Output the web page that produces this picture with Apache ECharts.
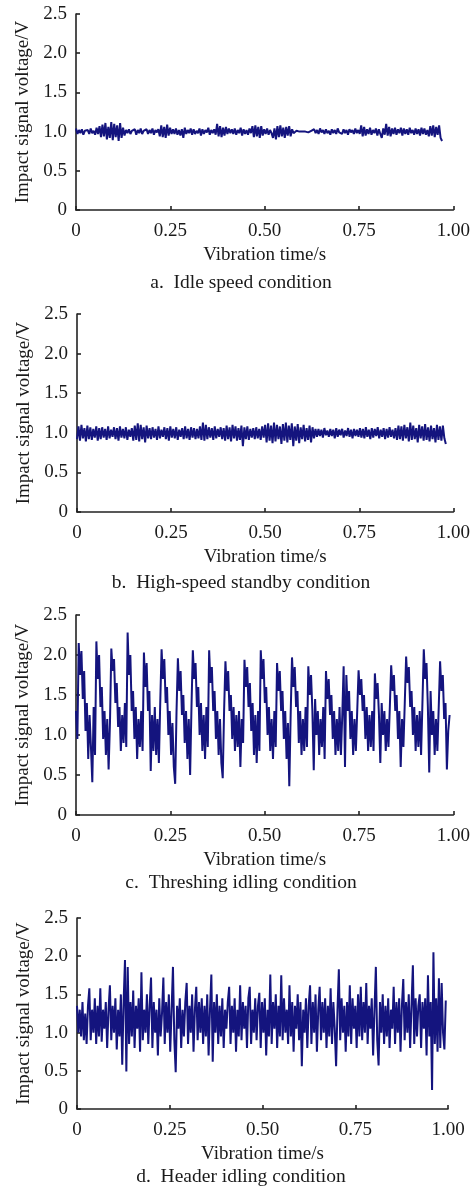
<!DOCTYPE html>
<html>
<head>
<meta charset="utf-8">
<script src="https://cdn.jsdelivr.net/npm/echarts@6/dist/echarts.min.js"></script>
<style>
html,body{margin:0;padding:0;background:#fff;}
#main{width:473px;height:1187px;}
</style>
</head>
<body>
<div id="main"></div>
<script>
// Panel captions
const captions = ['a.  Idle speed condition', 'b.  High-speed standby condition', 'c.  Threshing idling condition', 'd.  Header idling condition'];
const xTickLabels = ['0', '0.25', '0.50', '0.75', '1.00'];
const yTickLabels = ['0', '0.5', '1.0', '1.5', '2.0', '2.5'];
const xName = 'Vibration time/s';
const yName = 'Impact signal voltage/V';
// time of last sample in each record (s)
const endTimes = [0.97, 0.98, 0.99, 0.994];

const idleSpeed = [
1.04,0.97,1.02,0.98,1.03,0.96,1.01,0.99,1.02,0.97,1.04,0.98,1.01,0.96,1.05,0.97,
1.07,0.93,1.09,0.94,1.11,0.90,1.06,0.92,1.12,0.89,1.10,0.93,1.08,0.88,1.11,0.92,1.05,0.95,
1.02,0.98,1.03,0.97,1.01,0.99,1.03,0.96,1.02,0.98,1.04,0.97,1.01,0.99,1.03,0.97,1.02,0.98,1.04,0.96,1.02,0.99,1.03,
0.94,1.08,0.93,1.06,0.92,1.09,0.95,1.05,0.97,
1.03,0.97,1.04,0.96,1.02,0.95,1.03,0.92,1.05,0.97,1.02,0.98,1.04,0.96,1.03,0.97,1.01,0.98,1.04,0.95,1.03,0.97,1.02,0.99,1.05,0.96,1.02,0.98,1.03,
0.96,1.10,0.94,1.07,0.93,1.05,0.95,1.06,0.97,1.04,0.98,
1.03,0.97,1.04,0.96,1.02,0.98,1.05,0.95,1.03,0.97,1.02,0.96,1.04,0.98,1.07,0.93,1.08,0.94,1.06,0.92,1.07,0.95,1.03,0.97,1.04,0.96,1.02,0.98,0.92,1.04,
0.90,1.07,0.93,1.08,0.94,1.05,0.92,1.06,0.95,1.07,0.94,1.03,0.98,
1.00,1.01,0.99,1.00,1.01,1.00,0.99,1.00,1.01,0.99,1.00,1.01,0.99,
1.03,0.98,1.02,0.97,1.04,0.99,1.02,0.97,1.03,0.98,1.01,0.96,1.03,0.98,1.02,0.97,1.04,0.99,1.01,0.97,1.03,0.98,1.02,0.96,1.03,0.99,1.02,0.97,1.04,0.98,1.02,0.97,
1.08,0.94,1.06,0.95,
1.03,0.97,1.05,0.96,1.02,0.98,1.04,0.95,1.03,0.97,0.92,1.04,
0.96,1.10,0.95,1.06,0.94,1.04,0.97,1.05,0.96,1.03,0.98,1.05,0.95,1.04,0.97,1.03,0.96,1.05,0.98,1.02,0.96,1.04,0.97,1.03,0.95,1.05,0.97,1.04,0.96,1.02,0.94,1.07,0.95,1.08,0.93,1.06,0.96,1.08,0.92,0.88
];

const highSpeedStandby = [
0.92,1.08,0.90,1.10,0.93,1.06,0.89,1.09,0.92,1.07,0.91,1.05,0.94,1.08,0.90,
1.06,0.92,1.07,0.94,1.05,0.91,1.08,0.93,1.04,0.95,1.07,0.92,1.06,0.90,1.08,0.94,1.05,0.93,1.07,0.91,1.04,0.95,1.06,
0.90,1.09,0.91,1.12,0.89,1.10,0.92,1.07,0.88,1.09,0.93,
1.06,0.92,1.07,0.94,1.05,0.91,1.08,0.93,1.04,0.95,1.07,0.92,1.06,0.90,1.08,0.94,1.05,0.93,1.07,0.91,1.04,0.95,1.06,0.92,1.08,0.93,1.05,0.91,1.07,0.94,1.06,0.92,1.05,
0.93,1.08,0.91,1.13,0.90,1.10,0.92,1.07,0.94,1.06,0.91,1.08,0.93,1.05,0.95,1.07,0.92,1.06,
0.90,1.09,0.92,1.07,0.89,1.10,0.93,1.08,0.90,1.06,0.91,1.09,0.83,1.07,0.92,1.08,0.91,1.05,
0.94,1.06,0.92,1.07,0.93,1.05,0.91,1.08,0.94,
1.10,0.88,1.12,0.90,1.09,0.87,1.13,0.89,1.10,0.92,1.08,0.86,1.11,0.90,1.13,0.88,1.09,0.91,1.12,0.83,1.08,0.90,1.11,0.87,1.07,0.92,1.10,0.89,1.06,0.91,1.09,0.88,1.07,0.93,1.05,
0.95,1.05,0.96,1.04,0.94,1.06,0.97,1.03,0.95,1.05,0.96,1.04,0.93,1.06,0.95,1.04,0.97,1.05,0.94,1.03,0.96,1.06,0.95,1.04,0.93,1.05,0.96,1.04,0.95,1.06,0.94,
1.05,0.93,1.07,0.95,1.04,0.92,1.06,0.94,1.05,0.96,1.07,0.93,1.04,0.95,1.06,0.92,1.05,0.94,1.07,0.95,1.04,0.93,1.06,
0.91,1.09,0.92,1.08,0.90,1.10,0.93,1.07,0.89,1.13,0.91,1.09,0.92,1.06,0.88,1.10,0.93,1.08,0.90,1.11,0.91,1.07,0.89,1.09,0.92,1.06,0.88,1.10,0.91,1.08,0.90,1.09,0.93,0.86
];

const threshingIdling = [
1.30,0.95,
2.15,1.75,2.05,1.45,1.80,1.05,1.40,0.70,1.25,0.85,0.41,1.35,0.75,
2.17,1.70,2.00,1.35,1.60,0.95,1.30,0.75,1.20,0.57,1.15,
2.08,1.80,1.95,1.40,1.65,1.10,1.35,0.80,1.25,0.90,1.40,0.85,
2.28,1.75,2.00,1.30,1.55,0.95,1.35,0.70,1.20,0.85,1.30,0.80,
2.03,1.60,1.90,1.30,1.55,0.55,1.25,0.80,1.35,0.75,1.20,0.65,1.40,
2.07,1.70,1.95,1.40,1.60,1.00,1.30,0.75,1.15,0.60,0.39,1.30,
1.96,1.55,1.80,1.25,1.50,0.90,1.30,0.70,1.20,0.50,1.35,
2.06,1.70,1.90,1.35,1.60,1.00,1.40,0.80,1.25,0.70,1.35,0.85,
2.06,1.65,1.85,1.30,1.55,0.95,1.30,0.75,1.20,0.65,0.46,1.30,
1.92,1.55,1.80,1.30,1.50,0.95,1.35,0.80,1.25,0.85,1.30,0.60,1.20,0.90,
1.94,1.60,1.85,1.35,1.65,1.05,1.40,0.75,1.25,0.65,1.30,0.80,
2.06,1.70,1.95,1.40,1.60,1.00,1.35,0.80,1.20,0.70,1.30,0.85,
1.90,1.55,1.80,1.30,1.55,0.95,1.30,0.70,1.15,0.36,1.25,
1.97,1.60,1.85,1.35,1.55,0.90,1.30,0.75,1.20,0.80,1.35,0.85,
1.86,1.50,1.75,1.30,0.56,1.45,1.00,1.30,0.75,1.20,0.85,1.35,0.70,
1.80,1.45,1.70,1.25,1.50,0.95,1.30,0.75,1.20,0.80,1.35,0.75,1.25,
1.86,0.60,1.75,1.30,1.55,0.95,1.30,0.75,1.20,0.80,1.30,
1.81,1.50,1.70,1.30,1.50,0.95,1.35,0.80,1.25,0.85,1.30,0.80,
1.77,1.45,1.65,1.25,0.65,1.40,1.00,1.30,0.80,1.20,0.85,1.35,
1.87,1.55,1.75,1.30,1.50,0.95,1.30,0.60,1.20,0.85,1.40,
1.98,1.65,1.85,1.35,1.55,1.00,1.35,0.80,1.25,0.85,1.30,0.75,1.40,
2.07,1.70,1.90,1.35,0.53,1.55,1.00,1.30,0.75,1.20,0.80,1.35,
1.92,1.55,1.75,1.20,1.40,0.57,1.05,1.25
];

const headerIdling = [
1.35,1.00,1.30,0.95,1.40,0.90,1.25,0.85,1.35,1.58,
0.90,1.30,1.00,1.45,0.85,1.35,0.95,1.58,0.88,1.30,
1.05,1.40,0.80,1.30,1.62,0.90,1.35,1.00,1.45,0.78,
1.30,0.95,1.50,0.58,1.40,1.95,0.49,1.86,0.85,1.40,
0.95,1.55,0.80,1.35,1.05,1.45,0.75,1.79,0.90,1.30,
1.00,1.50,0.85,1.35,1.72,0.80,1.40,1.00,1.30,0.70,
1.45,0.95,1.25,1.72,0.85,1.40,1.00,1.50,0.75,1.30,
1.86,0.90,0.48,1.35,1.05,1.45,0.80,1.30,0.95,1.40,
1.65,0.85,1.35,1.00,1.50,0.75,1.30,1.60,0.90,1.40,
1.00,1.45,0.85,1.35,0.95,1.50,0.70,1.30,1.76,0.62,
1.40,1.00,1.50,0.85,1.35,0.95,1.45,0.80,1.30,1.05,
1.40,1.60,0.85,1.35,1.00,1.45,0.75,1.30,0.95,1.62,
0.90,1.40,1.05,1.35,0.80,1.45,1.60,0.85,1.30,1.00,
1.45,0.90,1.35,1.52,0.80,1.40,1.00,1.45,0.70,1.30,
0.95,1.76,0.85,1.40,1.05,1.50,0.80,1.35,0.95,1.75,
0.90,1.45,1.00,1.30,0.85,1.62,0.95,1.40,0.75,1.35,
1.05,1.50,0.90,1.40,0.56,1.30,1.00,1.45,0.80,1.35,
1.62,0.85,1.40,1.00,1.50,0.75,1.30,1.60,0.90,1.40,
1.00,1.45,0.80,1.35,0.95,1.58,0.85,1.40,1.05,0.56,
1.30,1.83,0.90,1.45,1.00,1.35,0.75,1.40,0.95,1.62,
0.85,1.45,1.05,1.35,0.80,1.50,0.95,1.60,0.90,1.40,
1.00,1.65,0.85,1.35,1.05,1.45,0.70,1.30,1.86,0.90,
0.57,1.40,1.00,1.50,0.85,1.35,0.95,1.45,0.80,1.30,
1.05,1.60,0.85,1.40,1.00,1.45,0.75,1.35,1.70,0.90,
1.40,1.00,1.50,0.80,1.35,1.88,0.85,1.45,0.95,1.35,
1.50,0.80,1.40,1.05,1.45,0.70,1.75,0.95,1.40,0.25,
2.05,0.85,1.45,0.75,1.71,0.80,1.65,1.00,0.78,1.42
];

const records = [idleSpeed, highSpeedStandby, threshingIdling, headerIdling];

const grids = [
  {left: 76, right: 17, top: 14, height: 196},
  {left: 77, right: 16, top: 314, height: 198},
  {left: 76, right: 16, top: 615, height: 200},
  {left: 77, right: 25, top: 918, height: 191}
];
const captionY = [283, 583, 883, 1177];

const FONT = '"Liberation Serif", "Times New Roman", serif';
const TXT = '#1a1a1a';
const LINE = '#14147e';

const chart = echarts.init(document.getElementById('main'), null, {renderer: 'canvas'});

const option = {
  animation: false,
  backgroundColor: '#fff',
  grid: grids.map(g => Object.assign({containLabel: false}, g)),
  xAxis: grids.map((g, i) => ({
    gridIndex: i, type: 'value', min: 0, max: 1, interval: 0.25,
    name: xName, nameLocation: 'middle', nameGap: 36,
    nameTextStyle: {fontFamily: FONT, fontSize: 19, color: TXT},
    axisLine: {show: true, onZero: false, lineStyle: {color: '#222', width: 1.6}},
    axisTick: {show: true, inside: true, length: 4, lineStyle: {color: '#222', width: 1.6}},
    axisLabel: {fontFamily: FONT, fontSize: 19, color: TXT, margin: 12,
      formatter: v => xTickLabels[Math.round(v / 0.25)]},
    splitLine: {show: false}
  })),
  yAxis: grids.map((g, i) => ({
    gridIndex: i, type: 'value', min: 0, max: 2.5, interval: 0.5,
    name: yName, nameLocation: 'middle', nameGap: 39,
    nameTextStyle: {fontFamily: FONT, fontSize: 19, color: TXT},
    axisLine: {show: true, lineStyle: {color: '#222', width: 1.6}},
    axisTick: {show: true, inside: true, length: 4, lineStyle: {color: '#222', width: 1.6}},
    axisLabel: {fontFamily: FONT, fontSize: 19, color: TXT, margin: 9,
      formatter: v => yTickLabels[Math.round(v / 0.5)]},
    splitLine: {show: false}
  })),
  series: records.map((arr, i) => ({
    type: 'line', xAxisIndex: i, yAxisIndex: i,
    showSymbol: false, symbol: 'none', silent: true,
    lineStyle: {color: LINE, width: 2},
    data: arr.map((v, k) => [k * endTimes[i] / (arr.length - 1), v])
  })),
  graphic: captions.map((c, i) => ({
    type: 'text', x: 241, y: captionY[i],
    style: {text: c, fontFamily: FONT, fontSize: 19.5, fill: TXT, textAlign: 'center', textVerticalAlign: 'middle'}
  }))
};
chart.setOption(option);
</script>
</body>
</html>
